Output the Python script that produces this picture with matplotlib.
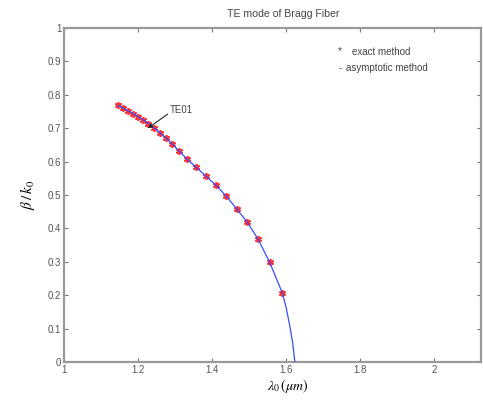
import matplotlib
matplotlib.use("Agg")
import matplotlib.pyplot as plt

plt.rcParams["mathtext.fontset"] = "stix"
plt.rcParams["font.family"] = ["Liberation Sans", "DejaVu Sans"]

# exact method points
exact_x = [1.146, 1.160, 1.173, 1.187, 1.200, 1.214, 1.228, 1.243, 1.259, 1.276, 1.293,
           1.311, 1.333, 1.357, 1.383, 1.410, 1.438, 1.467, 1.495, 1.525, 1.556, 1.590]
exact_y = [0.768, 0.760, 0.752, 0.744, 0.735, 0.725, 0.714, 0.701, 0.687, 0.670, 0.652,
           0.632, 0.607, 0.583, 0.557, 0.530, 0.497, 0.458, 0.419, 0.367, 0.298, 0.207]

# asymptotic method curve
asym_x = exact_x + [1.600, 1.610, 1.618, 1.624]
asym_y = exact_y + [0.165, 0.110, 0.058, 0.0]

xticks = [1, 1.2, 1.4, 1.6, 1.8, 2]
xtick_labels = ["1", "1.2", "1.4", "1.6", "1.8", "2"]
yticks = [0, 0.1, 0.2, 0.3, 0.4, 0.5, 0.6, 0.7, 0.8, 0.9, 1]
ytick_labels = ["0", "0.1", "0.2", "0.3", "0.4", "0.5", "0.6", "0.7", "0.8", "0.9", "1"]

W, H = 483, 405
fig = plt.figure(figsize=(W / 100, H / 100), dpi=100)
ax = fig.add_axes([64 / W, (H - 362) / H, (481 - 64) / W, (362 - 28) / H])

gray = "#9a9a9a"
tcol = "#555555"

ax.plot(exact_x, exact_y, linestyle="none", marker=(6, 2, 0), markersize=5,
        markeredgecolor="#ff3030", markeredgewidth=1.2, zorder=2)
ax.plot(asym_x, asym_y, color="#3a4dff", linewidth=0.9, zorder=3)

ax.set_xlim(1, 1 + (481 - 64) / 370)
ax.set_ylim(0, 1)
ax.set_xticks(xticks)
ax.set_xticklabels(xtick_labels)
ax.set_yticks(yticks)
ax.set_yticklabels(ytick_labels)
ax.tick_params(direction="in", length=3, width=0.8, color="#777777",
               labelsize=7, labelcolor=tcol, top=True, right=True, pad=2)
for s in ax.spines.values():
    s.set_color(gray)
    s.set_linewidth(1.6)

ax.annotate("", xy=(1.227, 0.700), xytext=(1.280, 0.742),
            arrowprops=dict(arrowstyle="-|>", color="#222222", lw=0.8,
                            mutation_scale=6, shrinkA=0, shrinkB=0))
ax.text(1.286, 0.754, "TE01", fontsize=7, color="#444444", va="center", ha="left")

leg_col = "#444444"
ax.text((340 - 64) / 417, 0.930, "*", transform=ax.transAxes, fontsize=7,
        color=leg_col, va="center", ha="center")
ax.text((352 - 64) / 417, 0.928, "exact method", transform=ax.transAxes, fontsize=7,
        color=leg_col, va="center", ha="left")
ax.text((340 - 64) / 417, 0.880, "-", transform=ax.transAxes, fontsize=7,
        color=leg_col, va="center", ha="center")
ax.text((346 - 64) / 417, 0.880, "asymptotic method", transform=ax.transAxes, fontsize=7,
        color=leg_col, va="center", ha="left")

fig.text(283 / W, 1 - 14 / H, "TE mode of Bragg Fiber", fontsize=7.6,
         color="#444444", ha="center", va="center")

ax.set_xlabel(r"$\lambda_0\,(\mu m)$", fontsize=10, labelpad=3)
ax.xaxis.set_label_coords((288 - 64) / 417, -0.045)
ax.xaxis.label.set_va("top")
ax.set_ylabel(r"$\beta\,/\,k_0$", fontsize=11, labelpad=8)

fig.savefig("out.png", dpi=100, facecolor="white")
